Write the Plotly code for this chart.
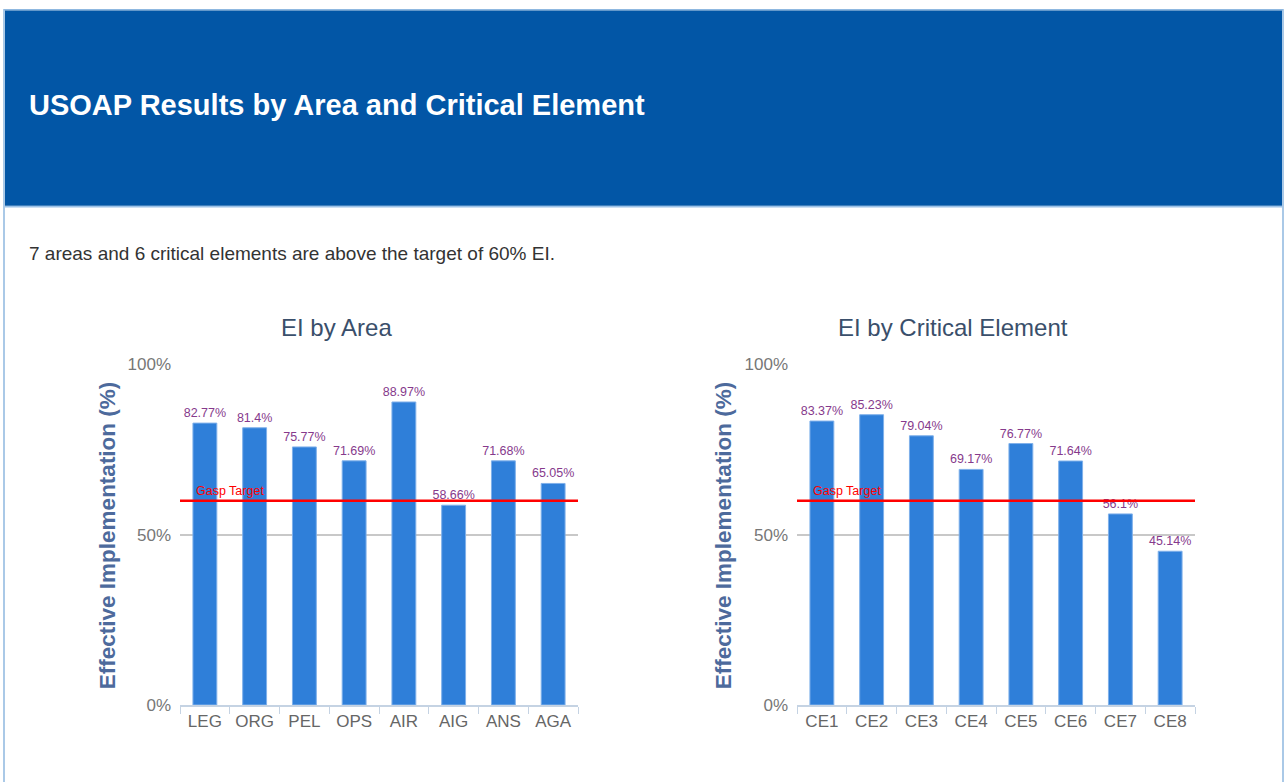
import plotly.graph_objects as go

W, H = 1285, 782

area_cats = ["LEG", "ORG", "PEL", "OPS", "AIR", "AIG", "ANS", "AGA"]
area_vals = [82.77, 81.4, 75.77, 71.69, 88.97, 58.66, 71.68, 65.05]
ce_cats = ["CE1", "CE2", "CE3", "CE4", "CE5", "CE6", "CE7", "CE8"]
ce_vals = [83.37, 85.23, 79.04, 69.17, 76.77, 71.64, 56.1, 45.14]
target = 60
y_ticks = [0, 50, 100]
y_tick_labels = ["0%", "50%", "100%"]

FONT = "Liberation Sans"
BAR = "#2f7fd9"
LABEL = "#863a8c"

# vertical capture compensation (observed offset/scale of the photographed page)
VA, VB = 8.1, 0.977

def px(x):
    return x / W

def py(y):
    return 1 - ((y - VA) / VB) / H

AX = ["", "2"]

fig = go.Figure()
for sfx, (cats, vals) in zip(AX, [(area_cats, area_vals), (ce_cats, ce_vals)]):
    fig.add_trace(go.Bar(
        x=cats, y=vals, xaxis="x" + sfx, yaxis="y" + sfx,
        marker=dict(color=BAR, line=dict(color="#7fb0ea", width=1)),
        texttemplate="%{y}%", textposition="outside", cliponaxis=False,
        constraintext="none",
        textfont=dict(family=FONT, size=12.5, color=LABEL),
        width=0.48, showlegend=False, hoverinfo="x+y",
    ))

axis_common_x = dict(
    showgrid=False, showline=True, linecolor="#c5d3e3", linewidth=2,
    ticks="outside", tickson="boundaries", ticklen=7, tickcolor="#c5d3e3",
    tickangle=0,
    tickfont=dict(family=FONT, size=17, color="#666"), fixedrange=True,
)
axis_common_y = dict(
    range=[0, 100], tickvals=y_ticks, ticktext=y_tick_labels,
    showgrid=True, gridcolor="#c8c8c8", gridwidth=1.5, zeroline=False,
    showline=False, ticks="", ticklabelstandoff=8,
    tickfont=dict(family=FONT, size=17, color="#777"),
    fixedrange=True,
)
ydom = [py(705), py(364)]
fig.update_layout(
    autosize=True, margin=dict(l=0, r=0, t=0, b=0),
    paper_bgcolor="white", plot_bgcolor="white",
    xaxis=dict(domain=[px(180), px(578)], anchor="y", **axis_common_x),
    yaxis=dict(domain=ydom, anchor="x", **axis_common_y),
    xaxis2=dict(domain=[px(797), px(1195)], anchor="y2", **axis_common_x),
    yaxis2=dict(domain=ydom, anchor="x2", **axis_common_y),
)

shapes = [
    dict(type="rect", xref="paper", yref="paper", x0=px(4), x1=px(1283), y0=py(830), y1=0.999,
         line=dict(color="#8fb8e0", width=1.5), fillcolor="white", layer="below"),
    dict(type="rect", xref="paper", yref="paper", x0=px(5), x1=px(1282), y0=py(205), y1=0.998,
         line=dict(width=0), fillcolor="#0256a6", layer="below"),
    dict(type="line", xref="paper", yref="paper", x0=px(5), x1=px(1282), y0=py(206), y1=py(206),
         line=dict(color="#9cc2e8", width=1.5), layer="below"),
]
for sfx in AX:
    shapes.append(dict(type="line", xref=f"x{sfx} domain", yref=f"y{sfx}", x0=0, x1=1, y0=target, y1=target,
                       line=dict(color="#ff0000", width=2.5), layer="above"))
fig.update_layout(shapes=shapes)

anns = [
    dict(text="<b>USOAP Results by Area and Critical Element</b>", xref="paper", yref="paper",
         x=px(27), y=py(104), xanchor="left", yanchor="middle", showarrow=False,
         font=dict(family=FONT, size=29, color="white")),
    dict(text="7 areas and 6 critical elements are above the target of 60% EI.", xref="paper", yref="paper",
         x=px(27), y=py(253), xanchor="left", yanchor="middle", showarrow=False,
         font=dict(family=FONT, size=19, color="#333")),
    dict(text="EI by Area", xref="paper", yref="paper", x=px(336), y=py(327),
         xanchor="center", yanchor="middle", showarrow=False,
         font=dict(family=FONT, size=24, color="#3a4f6b")),
    dict(text="EI by Critical Element", xref="paper", yref="paper", x=px(953), y=py(327),
         xanchor="center", yanchor="middle", showarrow=False,
         font=dict(family=FONT, size=24, color="#3a4f6b")),
]
for xc in (107, 723):
    anns.append(dict(text="<b>Effective Implementation (%)</b>", xref="paper", yref="paper",
                     x=px(xc), y=py(535), xanchor="center", yanchor="middle", textangle=-90,
                     showarrow=False, font=dict(family=FONT, size=22.5, color="#4d6a9c")))
for sfx in AX:
    anns.append(dict(text="Gasp Target", xref=f"x{sfx} domain", yref=f"y{sfx}", x=0.035, y=target,
                     xanchor="left", yanchor="bottom", yshift=1, showarrow=False,
                     font=dict(family=FONT, size=12.5, color="#ff0000")))
fig.update_layout(annotations=anns)

post = (
    "document.documentElement.style.overflow='hidden';"
    "document.documentElement.style.margin='0';document.documentElement.style.padding='0';"
    "document.body.style.margin='0';document.body.style.padding='0';document.body.style.overflow='hidden';"
    "var d=document.getElementById('{plot_id}');"
    "d.style.width='100vw';d.style.height='100vh';"
    "Plotly.Plots.resize(d);"
)
fig.write_html("out.html", config={"displayModeBar": False, "responsive": True},
               default_width="100vw", default_height="100vh", post_script=post)
